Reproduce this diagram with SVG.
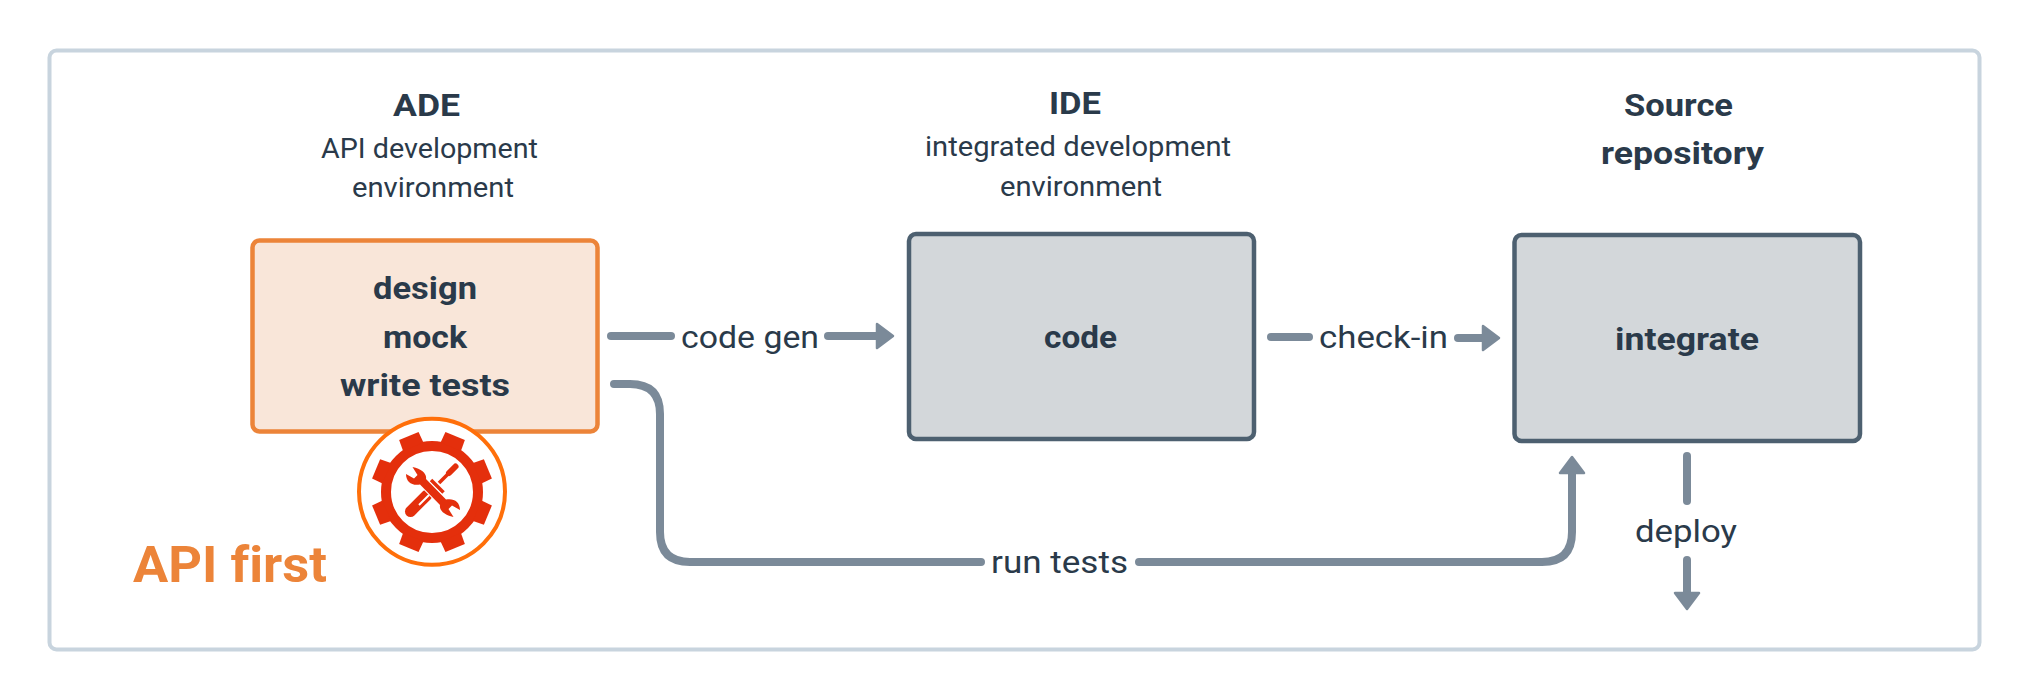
<svg xmlns="http://www.w3.org/2000/svg" xmlns:xlink="http://www.w3.org/1999/xlink" width="2028" height="696" viewBox="0 0 2028 696">
<style>
text{font-family:"Roboto","Liberation Sans",sans-serif;fill:#2a3a4a;font-variant-ligatures:none}
.b{font-weight:700;font-size:32px}
.r{font-weight:400;font-size:28px}
.l{font-weight:400;font-size:32px}
.box{stroke-width:4.5}
.or{fill:#f9e6d9;stroke:#ec8439}
.gr{fill:#d3d7da;stroke:#4d6070}
.c{fill:none;stroke:#7b8a99;stroke-width:8;stroke-linecap:round}
.a{marker-end:url(#head)}
.g{fill:#e42f0c}
</style>
<defs>
<marker id="head" markerUnits="userSpaceOnUse" markerWidth="24" markerHeight="32" refX="2" refY="16" orient="auto">
<path d="M2,4 L18,16 L2,28 Z" fill="#7b8a99" stroke="#7b8a99" stroke-width="2.5" stroke-linejoin="round"/>
</marker>
<polygon id="tooth" points="-11,-49 -10.5,-60.5 10.5,-60.5 11,-49" fill="#e42f0c"/>
</defs>
<rect id="frame" x="49.5" y="50.5" width="1930" height="599" rx="7" fill="#fff" stroke="#c8d4de" stroke-width="4"/>
<g id="connectors">
<path class="c" d="M611,336H671"/>
<path class="c a" d="M828,336H877"/>
<path class="c" d="M1271,337H1309"/>
<path class="c a" d="M1458,338H1483"/>
<path class="c" d="M614,384H630Q660,384 660,414V532Q660,562 690,562H981"/>
<path class="c a" d="M1139,562H1542Q1572,562 1572,532V473"/>
<path class="c" d="M1687,456V501"/>
<path class="c a" d="M1687,560V593"/>
</g>
<g id="ade-label">
<text class="b" x="393" y="116" textLength="67" lengthAdjust="spacingAndGlyphs">ADE</text>
<text class="r" x="321" y="158" textLength="217" lengthAdjust="spacingAndGlyphs">API development</text>
<text class="r" x="352" y="197" textLength="162" lengthAdjust="spacingAndGlyphs">environment</text>
</g>
<g id="ide-label">
<text class="b" x="1049" y="114" textLength="52" lengthAdjust="spacingAndGlyphs">IDE</text>
<text class="r" x="925" y="156" textLength="306" lengthAdjust="spacingAndGlyphs">integrated development</text>
<text class="r" x="1000" y="196" textLength="162" lengthAdjust="spacingAndGlyphs">environment</text>
</g>
<g id="source-label">
<text class="b" x="1624" y="116" textLength="109" lengthAdjust="spacingAndGlyphs">Source</text>
<text class="b" x="1601" y="164" textLength="163" lengthAdjust="spacingAndGlyphs">repository</text>
</g>
<g id="ade">
<rect class="box or" x="252.5" y="240.5" width="345" height="191" rx="7"/>
<text class="b" x="373" y="299" textLength="104" lengthAdjust="spacingAndGlyphs">design</text>
<text class="b" x="383" y="348" textLength="84" lengthAdjust="spacingAndGlyphs">mock</text>
<text class="b" x="340" y="396" textLength="170" lengthAdjust="spacingAndGlyphs">write tests</text>
</g>
<g id="ide">
<rect class="box gr" x="909" y="234" width="345" height="205" rx="7"/>
<text class="b" x="1044" y="348" textLength="73" lengthAdjust="spacingAndGlyphs">code</text>
</g>
<g id="source">
<rect class="box gr" x="1514.5" y="235" width="345.5" height="206" rx="7"/>
<text class="b" x="1615" y="350" textLength="144" lengthAdjust="spacingAndGlyphs">integrate</text>
</g>
<g id="edge-labels">
<text class="l" x="681" y="348" textLength="138" lengthAdjust="spacingAndGlyphs">code gen</text>
<text class="l" x="1319" y="348" textLength="129" lengthAdjust="spacingAndGlyphs">check-in</text>
<text class="l" x="991" y="573" textLength="137" lengthAdjust="spacingAndGlyphs">run tests</text>
<text class="l" x="1635" y="542" textLength="102" lengthAdjust="spacingAndGlyphs">deploy</text>
</g>
<g id="badge">
<circle cx="432" cy="491.7" r="73" fill="#fff" stroke="#ff6f0a" stroke-width="4"/>
<g transform="translate(432,492)">
<circle r="46" fill="none" stroke="#e42f0c" stroke-width="10"/>
<use href="#tooth" transform="rotate(22.5)"/>
<use href="#tooth" transform="rotate(67.5)"/>
<use href="#tooth" transform="rotate(112.5)"/>
<use href="#tooth" transform="rotate(157.5)"/>
<use href="#tooth" transform="rotate(202.5)"/>
<use href="#tooth" transform="rotate(247.5)"/>
<use href="#tooth" transform="rotate(292.5)"/>
<use href="#tooth" transform="rotate(337.5)"/>
</g>
<path d="M410.5,511.5L427,495" fill="none" stroke="#e42f0c" stroke-width="11" stroke-linecap="round"/>
<path d="M419,505L429,495" fill="none" stroke="#fff" stroke-width="2"/>
<path d="M439,483L451,471" fill="none" stroke="#e42f0c" stroke-width="3.5"/>
<path d="M449,473L455.5,466.5" fill="none" stroke="#e42f0c" stroke-width="6" stroke-linecap="round"/>
<path d="M431,480L443.5,492.5" fill="none" stroke="#e42f0c" stroke-width="3.5"/>
<path transform="translate(433,492)" class="g" stroke="#fff" stroke-width="2" paint-order="stroke" d="M-7,-13C-6,-18 -11,-23 -20.5,-25L-15.5,-17L-19,-13.5L-27,-18C-27,-10 -21,-6 -13,-7.5L7,13C6,18 11,23 20.5,25L15.5,17L19,13.5L27,18C27,10 21,6 13,7.5Z"/>
</g>
<text id="api-first" x="133" y="582" style="fill:#ec8439;font-weight:700;font-size:50px" textLength="194" lengthAdjust="spacingAndGlyphs">API first</text>
</svg>
